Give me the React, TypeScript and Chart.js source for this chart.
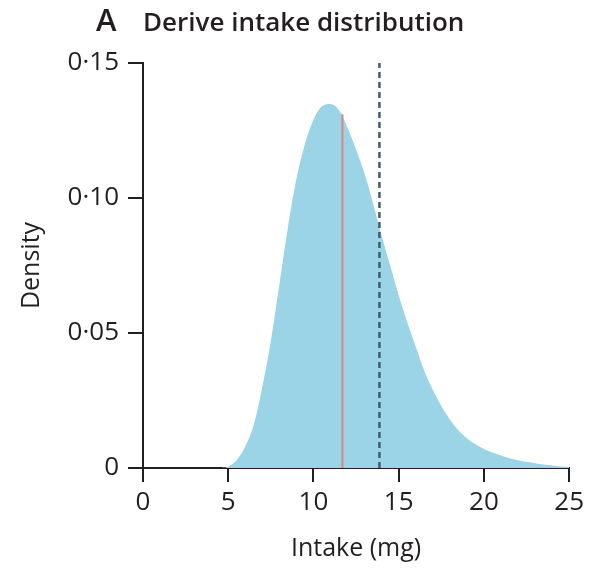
import React, { useEffect, useRef } from "react";
import { Chart, registerables } from "chart.js";

Chart.register(...registerables);

// Intake (mg) sample positions and estimated density values
const intakeX = [
  4.6, 5.0, 5.5, 6.0, 6.5, 7.0, 7.5, 8.0, 8.5, 9.0, 9.5, 10.0, 10.5, 11.0, 11.5,
  12.0, 12.5, 13.0, 13.5, 14.0, 14.5, 15.0, 15.5, 16.0, 16.5, 17.0, 17.5, 18.0,
  18.5, 19.0, 19.5, 20.0, 20.5, 21.0, 21.5, 22.0, 22.5, 23.0, 23.5, 24.0, 24.5, 25.0,
];
const densityY = [
  0, 0.0005, 0.003, 0.008, 0.016, 0.03, 0.047, 0.068, 0.089, 0.107, 0.12, 0.129,
  0.134, 0.1348, 0.1325, 0.126, 0.118, 0.109, 0.098, 0.086, 0.075, 0.064, 0.054,
  0.045, 0.036, 0.029, 0.023, 0.018, 0.014, 0.011, 0.0088, 0.007, 0.0057, 0.0046,
  0.0036, 0.0029, 0.0023, 0.0018, 0.0013, 0.0009, 0.0006, 0.0004,
];
// Vertical reference lines
const solidLineX = [11.7, 11.7];
const solidLineY = [0, 0.131];
const dashedLineX = [13.87, 13.87];
const dashedLineY = [0, 0.15];

const xTicks = [0, 5, 10, 15, 20, 25];
const yTicks = [0, 0.05, 0.1, 0.15];
const yTickLabels = ["0", "0·05", "0·10", "0·15"];

const titleLetter = "A";
const titleText = "Derive intake distribution";
const xTitle = "Intake (mg)";
const yTitle = "Density";

const INK = "#231f20";
const FONT = '"Open Sans", "DejaVu Sans", sans-serif';

export default function App() {
  const ref = useRef<HTMLCanvasElement | null>(null);

  useEffect(() => {
    document.body.style.margin = "0";
    const canvas = ref.current;
    if (!canvas) return;

    const titlePlugin = {
      id: "panelTitle",
      afterDraw(chart: any) {
        const ctx = chart.ctx;
        ctx.save();
        ctx.fillStyle = INK;
        ctx.textBaseline = "alphabetic";
        ctx.textAlign = "left";
        ctx.font = `600 31px ${FONT}`;
        ctx.fillText(titleLetter, 96, 31);
        ctx.font = `600 26px ${FONT}`;
        ctx.fillText(titleText, 143, 31);
        ctx.restore();
      },
    };

    const chart = new Chart(canvas, {
      type: "line",
      data: {
        datasets: [
          {
            label: "median",
            data: solidLineX.map((x, i) => ({ x, y: solidLineY[i] })),
            borderColor: "#d98583",
            borderWidth: 2,
            pointRadius: 0,
            fill: false,
            order: 0,
          },
          {
            label: "threshold",
            data: dashedLineX.map((x, i) => ({ x, y: dashedLineY[i] })),
            borderColor: "#3f5d6b",
            borderWidth: 2.5,
            borderDash: [6, 4],
            pointRadius: 0,
            fill: false,
            order: 0,
          },
          {
            label: "density",
            data: intakeX.map((x, i) => ({ x, y: densityY[i] })),
            borderWidth: 0,
            borderColor: "rgba(0,0,0,0)",
            backgroundColor: "#9bd4e6",
            pointRadius: 0,
            fill: "origin",
            cubicInterpolationMode: "monotone",
            order: 1,
          },
        ],
      },
      options: {
        animation: false,
        responsive: false,
        maintainAspectRatio: false,
        layout: { padding: { top: 63, right: 18, left: 0, bottom: 0 } },
        plugins: {
          legend: { display: false },
          tooltip: { enabled: false },
          title: { display: false },
        },
        scales: {
          x: {
            type: "linear",
            min: 0,
            max: 25,
            z: 1,
            afterBuildTicks: (scale: any) => {
              scale.ticks = xTicks.map((v) => ({ value: v }));
            },
            afterFit: (scale: any) => {
              scale.height = 101;
            },
            ticks: {
              color: INK,
              font: { family: FONT, size: 26 },
              padding: 5,
              maxRotation: 0,
              autoSkip: false,
            },
            grid: {
              display: true,
              drawOnChartArea: false,
              drawTicks: true,
              tickLength: 14,
              color: INK,
              lineWidth: 2,
            },
            border: { display: true, color: INK, width: 2 },
            title: {
              display: true,
              text: xTitle,
              color: INK,
              font: { family: FONT, size: 25 },
              padding: { top: 0, bottom: 5 },
            },
          },
          y: {
            type: "linear",
            min: 0,
            max: 0.15,
            z: 1,
            afterBuildTicks: (scale: any) => {
              scale.ticks = yTicks.map((v) => ({ value: v }));
            },
            afterFit: (scale: any) => {
              scale.width = 143;
            },
            ticks: {
              color: INK,
              font: { family: FONT, size: 26 },
              padding: 9,
              autoSkip: false,
              callback: (value: any) => {
                const idx = yTicks.findIndex((t) => Math.abs(t - Number(value)) < 1e-9);
                return idx >= 0 ? yTickLabels[idx] : "";
              },
            },
            grid: {
              display: true,
              drawOnChartArea: false,
              drawTicks: true,
              tickLength: 15,
              color: INK,
              lineWidth: 2,
            },
            border: { display: true, color: INK, width: 2 },
            title: {
              display: true,
              text: yTitle,
              color: INK,
              font: { family: FONT, size: 25 },
              padding: { top: 17, bottom: 0 },
            },
          },
        },
      },
      plugins: [titlePlugin],
    } as any);

    return () => chart.destroy();
  }, []);

  return (
    <div style={{ position: "absolute", left: 0, top: 0, width: 589, height: 569 }}>
      <canvas ref={ref} width={589} height={569} style={{ width: 589, height: 569 }} />
    </div>
  );
}
